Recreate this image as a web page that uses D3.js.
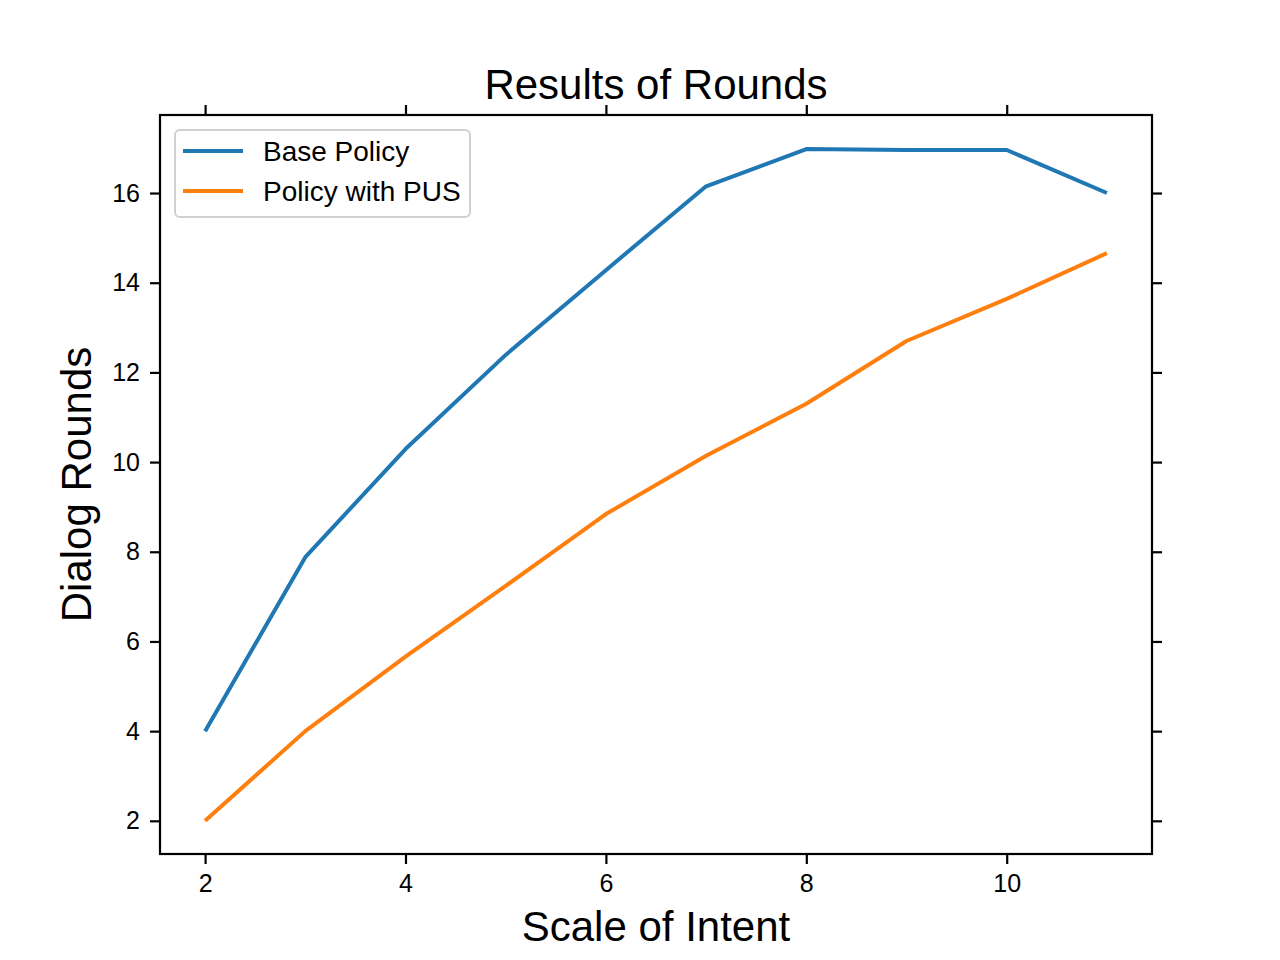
<!DOCTYPE html>
<html lang="en">
<head>
    <meta charset="UTF-8">
    <title>Results of Rounds</title>
    <script src="https://d3js.org/d3.v7.min.js"></script>
    <style>
        body, html {
            margin: 0;
            padding: 0;
            background: #fff;
        }
        svg text {
            font-family: "Liberation Sans", Arial, sans-serif;
            fill: #000;
        }
    </style>
</head>
<body>
    <div id="chart"></div>
    <script>
        // data
        const scales = [2, 3, 4, 5, 6, 7, 8, 9, 10, 11];
        const basePolicy = [4.0, 7.88, 10.29, 12.39, 14.28, 16.15, 16.98, 16.96, 16.96, 16.0];
        const policyPUS = [2.0, 4.0, 5.66, 7.24, 8.84, 10.14, 11.3, 12.7, 13.64, 14.66];
        const xTicks = [2, 4, 6, 8, 10];
        const yTicks = [2, 4, 6, 8, 10, 12, 14, 16];
        const seriesNames = ["Base Policy", "Policy with PUS"];
        const seriesColors = ["#1f77b4", "#ff7f0e"];

        const width = 1280, height = 960;
        const plotLeft = 160, plotRight = 1152, plotTop = 115, plotBottom = 854;

        const svg = d3.select("#chart").append("svg")
            .attr("width", width)
            .attr("height", height);

        const x = d3.scaleLinear().domain([1.55, 11.45]).range([plotLeft, plotRight]);
        const y = d3.scaleLinear().domain([1.26, 17.74]).range([plotBottom, plotTop]);

        // axes on all four sides, labels only bottom/left
        const tickLen = 10;
        svg.append("g")
            .attr("transform", `translate(0,${plotBottom})`)
            .call(d3.axisBottom(x).tickValues(xTicks).tickSize(tickLen).tickPadding(10).tickFormat(d3.format("d")))
            .call(g => g.select(".domain").remove())
            .call(g => g.selectAll("text").style("font-size", "25px"));
        svg.append("g")
            .attr("transform", `translate(0,${plotTop})`)
            .call(d3.axisTop(x).tickValues(xTicks).tickSize(tickLen).tickFormat(""))
            .call(g => g.select(".domain").remove());
        svg.append("g")
            .attr("transform", `translate(${plotLeft},0)`)
            .call(d3.axisLeft(y).tickValues(yTicks).tickSize(tickLen).tickPadding(10).tickFormat(d3.format("d")))
            .call(g => g.select(".domain").remove())
            .call(g => g.selectAll("text").style("font-size", "25px"));
        svg.append("g")
            .attr("transform", `translate(${plotRight},0)`)
            .call(d3.axisRight(y).tickValues(yTicks).tickSize(tickLen).tickFormat(""))
            .call(g => g.select(".domain").remove());
        svg.selectAll(".tick line").attr("stroke", "#000").attr("stroke-width", 2.2);

        // lines
        const line = d3.line()
            .x((d, i) => x(scales[i]))
            .y(d => y(d));
        [basePolicy, policyPUS].forEach((s, k) => {
            svg.append("path")
                .datum(s)
                .attr("fill", "none")
                .attr("stroke", seriesColors[k])
                .attr("stroke-width", 4)
                .attr("stroke-linejoin", "round")
                .attr("d", line);
        });

        // frame
        svg.append("rect")
            .attr("x", plotLeft).attr("y", plotTop)
            .attr("width", plotRight - plotLeft).attr("height", plotBottom - plotTop)
            .attr("fill", "none")
            .attr("stroke", "#000")
            .attr("stroke-width", 2.2);

        // titles
        svg.append("text")
            .attr("x", (plotLeft + plotRight) / 2).attr("y", 99)
            .attr("text-anchor", "middle")
            .style("font-size", "42px")
            .text("Results of Rounds");
        svg.append("text")
            .attr("x", (plotLeft + plotRight) / 2).attr("y", 941)
            .attr("text-anchor", "middle")
            .style("font-size", "42px")
            .text("Scale of Intent");
        svg.append("text")
            .attr("transform", `translate(91,${(plotTop + plotBottom) / 2}) rotate(-90)`)
            .attr("text-anchor", "middle")
            .style("font-size", "42px")
            .text("Dialog Rounds");

        // legend
        const legend = svg.append("g");
        legend.append("rect")
            .attr("x", 175).attr("y", 130)
            .attr("width", 295).attr("height", 87)
            .attr("rx", 5)
            .attr("fill", "#fff")
            .attr("fill-opacity", 0.8)
            .attr("stroke", "#d0d0d0")
            .attr("stroke-width", 2);
        seriesNames.forEach((name, i) => {
            const ly = 151 + i * 40;
            legend.append("line")
                .attr("x1", 183).attr("x2", 243)
                .attr("y1", ly).attr("y2", ly)
                .attr("stroke", seriesColors[i])
                .attr("stroke-width", 4);
            legend.append("text")
                .attr("x", 263).attr("y", ly)
                .attr("dy", "0.35em")
                .style("font-size", "28px")
                .text(name);
        });
    </script>
</body>
</html>
